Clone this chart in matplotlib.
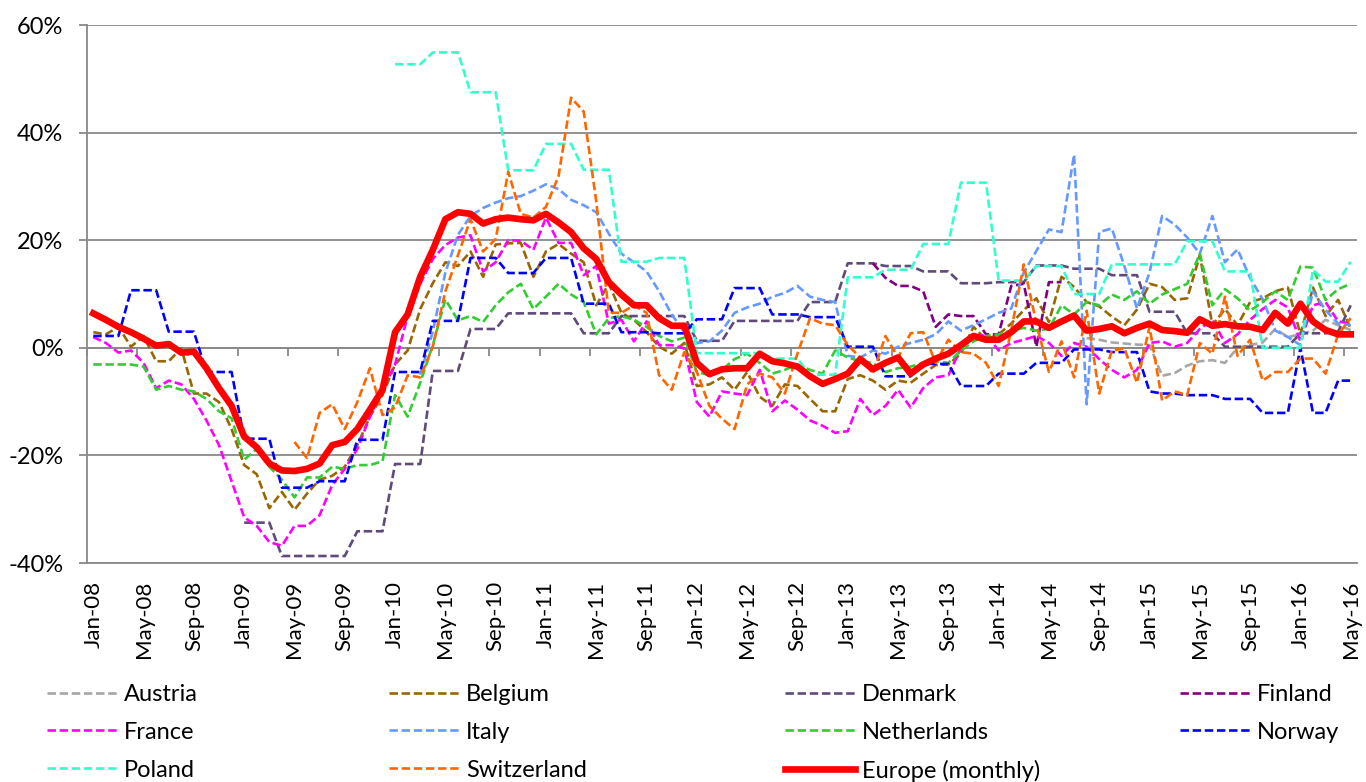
import numpy as np
import pandas as pd
import matplotlib
matplotlib.use("Agg")
import matplotlib.pyplot as plt

nan = np.nan

# monthly categories Jan-08 .. May-16
months = pd.date_range("2008-01-01", "2016-05-01", freq="MS").strftime("%b-%y").tolist()

# year-on-year change, %
austria = [nan] * 79 + [
    1.8, 1.5, 1.0, 0.8, 0.6, 0.5, -5.2, -4.7, -3.3, -2.5, -2.3, -2.8, 0.0, 0.5, 1.0, 3.5,
    2.0, 2.5, 3.2, 5.2, 4.2, 3.3]

belgium = [
    2.9, 2.5, 3.9, 0.2, 2.2, -2.5, -2.5, -0.1, -8.5, -8.5, -10.1, -15.1, -21.8, -23.5, -29.8, -26.8, -30.1,
    -27.1, -24.5, -23.8, -22.1, -18.1, -12.8, -8.8, -3.1, -0.5, 7.2, 12.0, 15.9, 15.2, 17.9, 13.2, 19.2, 19.4,
    19.5, 13.2, 17.9, 19.3, 17.5, 15.9, 7.9, 11.9, 6.5, 5.2, 2.9, 0.2, -1.1, 0.9, -7.1, -6.8, -5.5,
    -7.8, -4.5, -9.1, -10.8, -6.8, -7.1, -9.5, -11.8, -11.8, -5.8, -5.1, -6.1, -7.8, -6.1, -6.5, -4.8, -3.2,
    -3.1, -1.1, 3.9, 1.5, 2.5, 4.5, 7.0, 9.2, 4.8, 13.2, 11.3, 8.5, 7.7, 5.8, 4.2, 7.1,
    11.9, 11.3, 8.9, 9.2, 17.2, 4.2, 7.2, 4.2, 8.5, 9.2, 10.5, 11.2, 2.5, 11.2, 5.9, 8.9, 3.5]

denmark = [nan] * 12 + [
    -32.5, -32.5, -32.5, -38.7, -38.7, -38.7, -38.7, -38.7, -38.7, -34.1, -34.1, -34.1,
    -21.6, -21.6, -21.6, -4.3, -4.3, -4.3, 3.5, 3.5, 3.5, 6.4, 6.4, 6.4,
    6.4, 6.4, 6.4, 2.7, 2.7, 2.7, 5.9, 5.9, 5.9, 5.9, 5.9, 5.9,
    1.3, 1.3, 1.3, 5.0, 5.0, 5.0, 5.0, 5.0, 5.0, 8.5, 8.5, 8.5,
    15.7, 15.7, 15.7, 15.2, 15.2, 15.2, 14.2, 14.2, 14.2, 12.0, 12.0, 12.0,
    12.2, 12.2, 12.2, 15.3, 15.3, 15.3, 14.7, 14.7, 14.7, 13.5, 13.5, 13.5,
    6.7, 6.7, 6.7, 2.7, 2.7, 2.7, 0.2, 0.2, 0.2, 0.2, 0.2, 0.2,
    2.7, 2.7, 2.7, 3.0, 7.9]

finland = [nan] * 62 + [
    15.7, 13.0, 11.5, 11.5, 10.5, 3.9, 6.2, 5.9, 5.9, 2.5, 2.5, 11.5, 11.9, 0.2, 12.2, 12.2] + [nan] * 23

france = [
    2.0, 0.9, -0.9, -0.5, -2.8, -7.5, -6.1, -6.8, -9.5, -13.5, -18.1, -24.8, -31.5, -33.1, -36.1, -36.8, -33.1,
    -33.1, -31.1, -25.5, -22.5, -18.8, -12.8, -7.8, -3.1, 5.9, 11.9, 16.5, 19.1, 20.5, 20.9, 14.2, 15.9, 20.0,
    19.9, 18.2, 24.2, 19.5, 19.5, 13.5, 15.2, 4.5, 5.2, 1.2, 4.9, 0.5, 0.5, -0.1, -10.1, -12.8, -8.1,
    -8.5, -8.8, -4.1, -11.8, -9.8, -11.5, -13.5, -14.5, -15.8, -15.5, -9.5, -12.5, -10.8, -7.8, -11.1, -7.5, -5.5,
    -5.1, -0.1, 1.9, 2.5, -0.5, 0.9, 1.5, 2.2, 0.9, -1.5, 0.9, 0.2, -2.1, -4.1, -5.5, -4.1,
    0.9, 1.2, 0.2, 0.9, 3.5, 5.2, 0.9, 2.5, 5.2, 7.2, 8.9, 7.5, 1.2, 7.9, 8.5, 4.9, 4.5]

italy = [nan] * 26 + [
    -5.0, 3.0, 14.0, 21.0, 24.5, 26.0, 27.0, 27.8,
    28.2, 29.2, 30.4, 29.5, 27.5, 26.5, 25.2, 21.2, 17.5, 15.9, 14.2, 10.5, 6.2, 2.9, 0.9, 1.2, 3.2,
    6.5, 7.5, 8.2, 9.5, 10.2, 11.5, 9.5, 8.9, 8.5, -1.5, -1.8, -0.5, -1.1, 0.2, 0.9, 1.5, 2.5,
    4.9, 3.2, 4.2, 5.3, 6.5, 7.3, 14.0, 18.0, 22.0, 21.5, 35.9, -10.5, 21.5, 22.2, 15.2, 7.3,
    14.0, 24.5, 22.9, 20.5, 17.5, 24.5, 15.9, 18.3, 13.0, 9.0, 3.2, 2.0, 0.5, 10.5, 7.0, 4.5, 4.2]

netherlands = [
    -3.1, -3.1, -3.1, -3.1, -3.5, -7.8, -7.1, -7.8, -8.1, -9.5, -11.8, -13.1, -20.8, -18.8, -22.1, -24.5, -27.8,
    -24.1, -24.1, -22.1, -22.5, -21.8, -21.8, -21.1, -8.8, -12.8, -6.5, 0.5, 9.0, 5.1, 5.9, 4.8, 7.9, 10.3,
    11.9, 7.2, 9.5, 11.9, 9.9, 8.5, 2.5, 5.5, 5.9, 5.2, 3.9, 2.2, 1.2, 1.9, -4.5, -5.1, -4.1,
    -2.1, -1.1, -2.8, -4.8, -4.1, -3.1, -4.1, -4.8, -0.5, -1.8, -2.5, -2.8, -4.5, -3.8, -3.5, -2.8, -2.5,
    -2.8, -0.5, 1.2, 2.2, 2.5, 3.2, 3.7, 3.2, 3.5, 7.9, 6.2, 8.5, 7.9, 9.9, 8.9, 10.5,
    8.2, 9.9, 10.9, 11.9, 17.5, 7.9, 10.9, 9.2, 6.9, 8.5, 10.5, 8.9, 15.1, 14.9, 8.9, 10.9, 11.9]

norway = [
    2.2, 2.2, 2.2, 10.7, 10.7, 10.7, 3.0, 3.0, 3.0, -4.5, -4.5, -4.5,
    -16.9, -16.9, -16.9, -26.0, -26.0, -26.0, -24.8, -24.8, -24.8, -17.1, -17.1, -17.1,
    -4.5, -4.5, -4.5, 5.0, 5.0, 5.0, 16.7, 16.7, 16.7, 13.9, 13.9, 13.9,
    16.7, 16.7, 16.7, 8.2, 8.2, 8.2, 2.9, 2.9, 2.9, 2.7, 2.7, 2.7,
    5.3, 5.3, 5.3, 11.1, 11.1, 11.1, 6.2, 6.2, 6.2, 5.7, 5.7, 5.7,
    0.2, 0.2, 0.2, -5.3, -5.3, -5.3, -3.0, -3.0, -3.0, -7.1, -7.1, -7.1,
    -4.8, -4.8, -4.8, -2.8, -2.8, -2.8, -0.3, -0.3, -0.3, -0.8, -0.8, -0.8,
    -8.1, -8.5, -8.5, -8.8, -8.8, -8.8, -9.5, -9.5, -9.5, -12.1, -12.1, -12.1,
    0.0, -12.1, -12.1, -6.1, -6.1]

poland = [nan] * 24 + [
    52.7, 52.7, 52.7, 54.9, 54.9, 54.9, 47.5, 47.5, 47.5, 33.0, 33.0, 33.0,
    37.9, 37.9, 37.9, 33.1, 33.1, 33.1, 16.0, 16.0, 16.0, 16.7, 16.7, 16.7,
    -1.0, -1.0, -1.0, -1.0, -1.0, -1.0, -2.0, -2.0, -2.0, -5.0, -5.0, -5.0,
    13.1, 13.1, 13.1, 14.5, 14.5, 14.5, 19.3, 19.3, 19.3, 30.7, 30.7, 30.7,
    12.5, 12.5, 12.5, 15.2, 15.2, 15.2, 10.0, 10.0, 10.0, 15.5, 15.5, 15.5,
    15.5, 15.5, 15.5, 19.8, 19.8, 19.8, 14.2, 14.2, 14.2, 0.0, 0.0, 0.0,
    0.0, 14.5, 12.3, 12.3, 16.0]

switzerland = [nan] * 16 + [
    -17.5, -20.5, -12.1, -10.5, -15.1, -10.1, -3.8, -12.5, -11.1, -5.1, -5.5, 0.2, 10.5, 17.2, 23.9, 17.9, 20.2, 32.7,
    24.9, 24.2, 26.2, 31.9, 46.5, 43.9, 27.2, 6.5, 6.5, 7.9, 6.5, -5.1, -7.8, -0.8, -4.5, -10.8, -13.2,
    -15.1, -6.8, -4.8, -5.5, -8.5, -1.1, 5.5, 4.5, 4.2, 0.5, -1.8, -4.8, 2.2, -1.8, 2.7, 2.9, -2.8,
    1.5, -0.8, -1.1, -2.8, -7.1, 3.2, 15.5, 4.5, -4.5, 1.2, -5.5, 6.9, -8.5, -0.5, -0.1, -6.5,
    3.9, -9.8, -8.1, -8.8, 0.9, -1.1, 9.5, -1.5, 1.5, -6.1, -4.5, -4.5, -2.0, -2.0, -4.8, 2.5, 5.5]

europe = [
    6.4, 5.2, 3.9, 2.9, 1.7, 0.4, 0.7, -0.9, -0.7, -3.8, -7.5, -10.8, -16.5, -18.5, -21.5, -22.8, -22.9,
    -22.5, -21.5, -18.1, -17.5, -15.1, -11.5, -7.8, 2.9, 6.2, 13.2, 18.2, 23.9, 25.2, 24.9, 23.1, 23.9, 24.2,
    23.9, 23.7, 24.9, 23.3, 21.5, 18.5, 16.5, 12.2, 9.9, 7.9, 7.9, 5.5, 4.1, 4.1, -2.8, -4.9, -4.0,
    -3.8, -3.8, -1.1, -2.5, -2.9, -3.5, -5.3, -6.7, -5.8, -4.8, -2.1, -4.0, -2.8, -1.8, -4.8, -3.1, -2.0,
    -1.1, 0.5, 2.2, 1.5, 1.5, 2.9, 4.9, 4.9, 3.7, 4.9, 6.0, 3.2, 3.5, 4.0, 2.7, 3.7,
    4.5, 3.3, 3.1, 2.8, 5.3, 4.1, 4.4, 4.0, 3.9, 3.3, 6.5, 4.5, 8.2, 4.9, 3.3, 2.5, 2.5]

countries = [
    ("Austria", austria, "#A6A6A6"),
    ("Belgium", belgium, "#996600"),
    ("Denmark", denmark, "#604A7B"),
    ("Finland", finland, "#800080"),
    ("France", france, "#FF00FF"),
    ("Italy", italy, "#6699FF"),
    ("Netherlands", netherlands, "#33CC33"),
    ("Norway", norway, "#0000FF"),
    ("Poland", poland, "#33FFCC"),
    ("Switzerland", switzerland, "#FF6600"),
]

GRID = "#898989"
plt.rcParams["font.family"] = ["Lato", "DejaVu Sans"]
plt.rcParams["font.size"] = 17

fig = plt.figure(figsize=(13.66, 7.82), dpi=100)
ax = fig.add_axes([87 / 1366, 1 - 563 / 782, 1270 / 1366, 538 / 782])

x = np.arange(len(months))
handles = {}
for name, vals, color in countries:
    line, = ax.plot(x, np.array(vals, dtype=float), color=color, lw=1.9,
                    dashes=(3.2, 1.4), label=name)
    handles[name] = line
line, = ax.plot(x, europe, color="#FF0000", lw=4.8, label="Europe (monthly)")
handles["Europe (monthly)"] = line

ax.set_xlim(-0.5, len(months) - 0.5)
ax.set_ylim(-40, 60)
ax.set_yticks(range(-40, 61, 20))
ax.set_yticklabels([f"{v}%" for v in range(-40, 61, 20)])
ax.yaxis.grid(True, color=GRID, lw=1.3)
ax.set_axisbelow(True)
ax.tick_params(axis="y", length=6, width=1.3, color=GRID, pad=11, labelsize=17)

ax.set_xticks(x[::4])
ax.set_xticklabels(months[::4], rotation=90)
ax.tick_params(axis="x", length=0, pad=13, labelsize=16)

for side in ["top", "right"]:
    ax.spines[side].set_visible(False)
for side in ["left", "bottom"]:
    ax.spines[side].set_color(GRID)
    ax.spines[side].set_linewidth(1.3)

# horizontal axis line crosses at 0% with tick marks between categories
zero = (0 - ax.get_ylim()[0]) / (ax.get_ylim()[1] - ax.get_ylim()[0])
sec = ax.secondary_xaxis(zero)
sec.set_alignment("bottom")
sec.set_xticks(np.arange(-0.5, len(months) - 1, 4))
sec.tick_params(length=6, width=1.3, color=GRID, labelbottom=False, labeltop=False)
for s in sec.spines.values():
    s.set_color(GRID)
    s.set_linewidth(1.3)

# legend laid out row-wise in 4 columns
columns = [
    ["Austria", "France", "Poland"],
    ["Belgium", "Italy", "Switzerland"],
    ["Denmark", "Netherlands", "Europe (monthly)"],
    ["Finland", "Norway"],
]
col_x = [47, 389, 785, 1180]
for names, cx in zip(columns, col_x):
    leg = fig.legend([handles[n] for n in names], names, loc="upper left",
                     bbox_to_anchor=(cx / 1366, 1 - 684 / 782), frameon=False,
                     borderpad=0, borderaxespad=0, handlelength=2.97,
                     handletextpad=0.28, labelspacing=0.71, fontsize=17)

fig.savefig("out.png", dpi=100)
